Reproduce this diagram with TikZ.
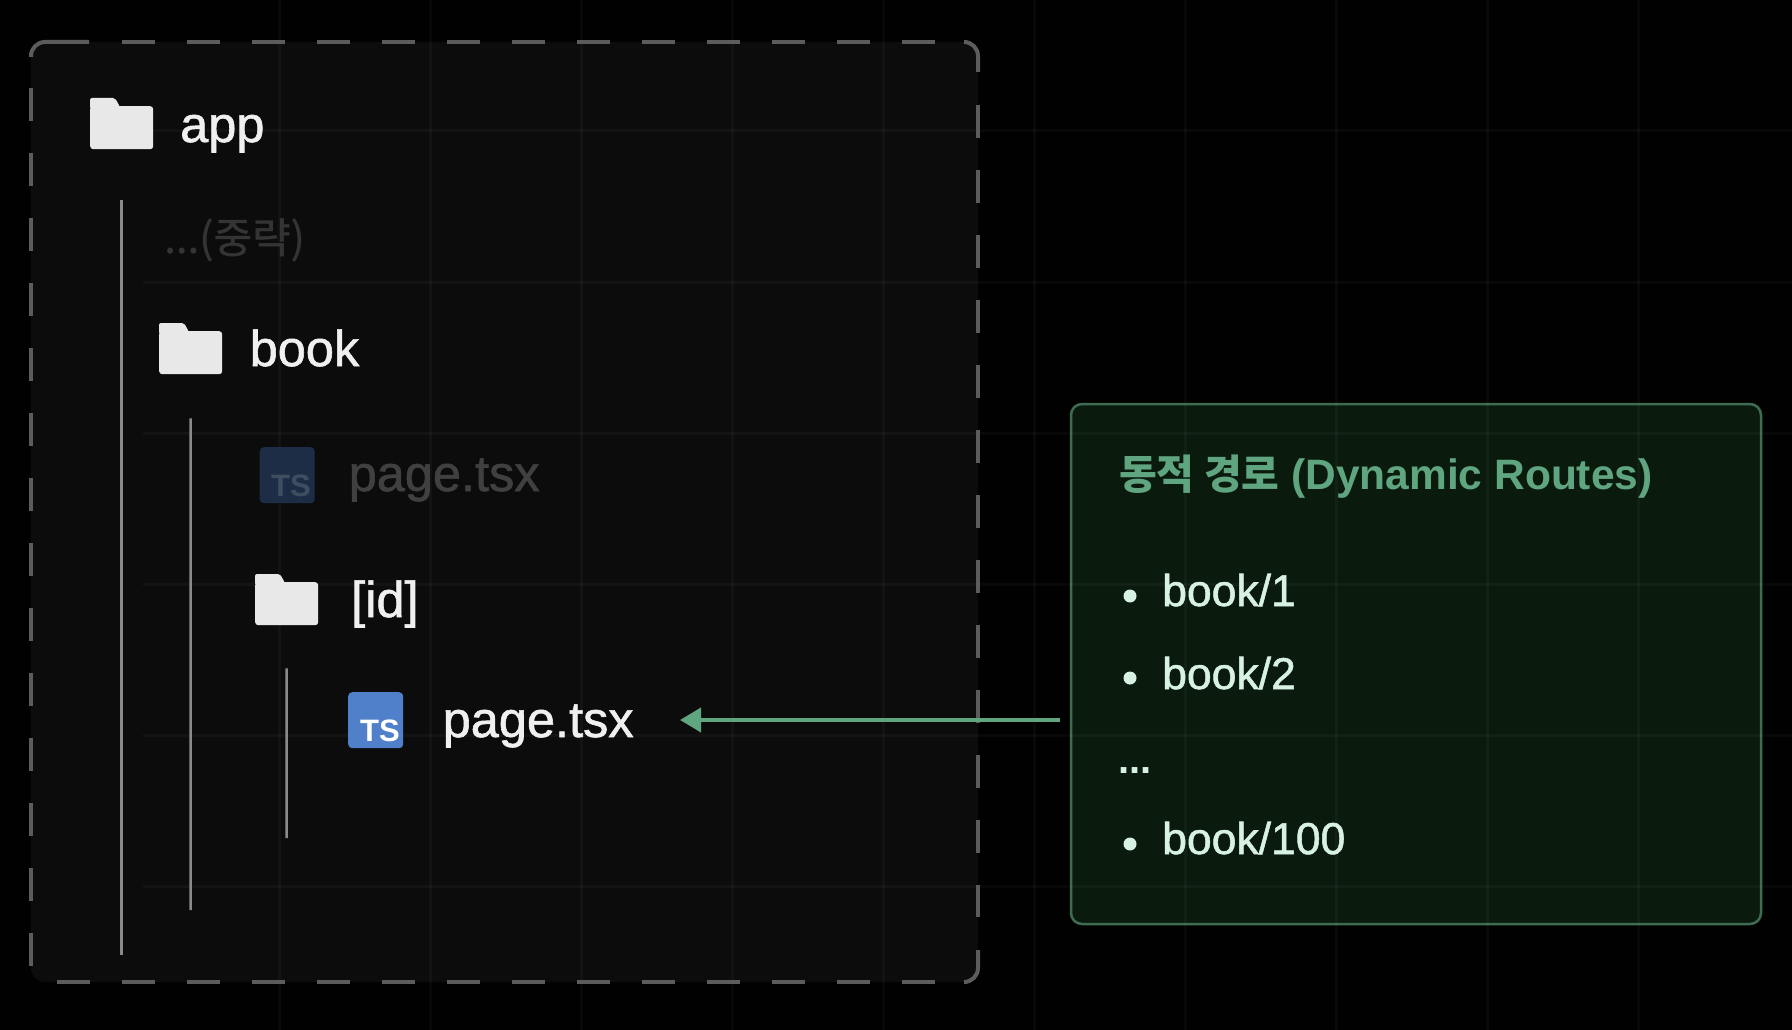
\documentclass[tikz,border=0pt]{standalone}
\usepackage{fontspec}
\setmainfont{Liberation Sans}
\newfontfamily\medfont{Liberation Sans}[FakeBold=1.2]
\newfontfamily\krfont{Noto Sans CJK KR}
\newfontfamily\krmedfont{Noto Sans CJK KR}[FakeBold=0.8]
\usetikzlibrary{calc}
\usetikzlibrary{positioning, arrows.meta}

\definecolor{bgblack}{HTML}{010101}
\definecolor{panelfill}{HTML}{0C0C0C}
\definecolor{paneledge}{HTML}{5C5C5C}
\definecolor{treegray}{HTML}{8A8A8A}
\definecolor{foldergray}{HTML}{E8E8E8}
\definecolor{filetext}{HTML}{F0F0F0}
\definecolor{fadedtext}{HTML}{404040}
\definecolor{hiddentext}{HTML}{343434}
\definecolor{tsblue}{HTML}{4F80C9}
\definecolor{tsfaded}{HTML}{1C2D45}
\definecolor{tsfadedtext}{HTML}{3F4D60}
\definecolor{routefill}{HTML}{0A1B0E}
\definecolor{routeedge}{HTML}{3F6B50}
\definecolor{routegreen}{HTML}{5FA580}
\definecolor{routetext}{HTML}{D7F1E3}

\tikzset{
    panelbox/.style={fill=panelfill, rounded corners=14, minimum width=947, minimum height=940, inner sep=0},
    paneldash/.style={draw=paneledge, line width=4, dash pattern=on 33 off 32},
    panelcorner/.style={draw=paneledge, line width=4, rounded corners=14},
    gridline/.style={draw=white, opacity=0.03, line width=3},
    treeline/.style={draw=treegray, line width=2.5},
    folderbody/.style={fill=foldergray, rounded corners=3, minimum width=63, minimum height=43, inner sep=0, anchor=north west},
    tsbox/.style={rounded corners=4, minimum width=55, minimum height=56, inner sep=0, anchor=north west},
    tslabel/.style={font=\fontsize{31}{36}\selectfont\bfseries, inner sep=0, anchor=base east},
    filename/.style={font=\fontsize{50.5}{60}\selectfont\medfont, text=filetext, inner sep=0, anchor=base west},
    routebox/.style={draw=routeedge, fill=routefill, line width=2.5, rounded corners=11, minimum width=690, minimum height=520, inner sep=0},
    routeitem/.style={font=\fontsize{44.5}{54}\selectfont\medfont, text=routetext, inner sep=0, anchor=base west},
    routedot/.style={circle, fill=routetext, minimum size=13, inner sep=0},
    routearrow/.style={draw=routegreen, line width=4, -{Triangle[length=21pt,width=24pt]}, shorten >=0pt}
}

\newcommand{\folderdir}[3]{%
    \node[folderbody] (#1) at (#2,#3) {};
    \fill[foldergray, rounded corners=2] ($(#1.north west)+(0,3)$) -- ++(0,-11) -- ++(25,0) -- ++(5,9) -- ++(0,2) -- cycle;
}

\begin{document}
\begin{tikzpicture}[x=1pt, y=-1pt]
    \fill[bgblack] (0,0) rectangle (1792,1030);
    \useasboundingbox (0,0) rectangle (1792,1030);

    \node[panelbox] (treepanel) at (504.5,512) {};
    \node[routebox] (routes) at (1416,664) {};

    % faint background grid
    \foreach \gx in {279,430,581,732,883,1034,1185,1336,1487,1638} {
        \draw[gridline] (\gx,0) -- (\gx,1030);
    }
    \foreach \gy in {131,282,433,584,735,886} {
        \draw[gridline] (143,\gy) -- (1792,\gy);
    }

    % dashed edge of the panel
    \draw[paneldash] (122,42) -- (935,42);
    \draw[paneldash] (978,105) -- (978,917);
    \draw[paneldash] (57,982) -- (935,982);
    \draw[paneldash] (31,88) -- (31,967);
    \draw[panelcorner] (31,57) |- (89,42);
    \draw[panelcorner] (964,42) -| (978,72);
    \draw[panelcorner] (978,950) |- (964,982);

    % file tree
    \folderdir{appdir}{90}{106}
    \node[filename] (appname) at (180,142) {app};
    \node[font=\fontsize{42}{50}\selectfont\krmedfont, text=hiddentext, inner sep=0, anchor=base west] (skipped) at (164,253) {...(중략)};

    \folderdir{bookdir}{159}{331}
    \node[filename] (bookname) at (249.5,366) {book};

    \node[tsbox, fill=tsfaded] (pageicona) at (259.5,447) {};
    \node[tslabel, text=tsfadedtext] (pagetsa) at (311,496) {TS};
    \node[filename, text=fadedtext] (pagefilea) at (348.5,491) {page.tsx};

    \folderdir{iddir}{255}{582}
    \node[filename] (idname) at (351,617) {[id]};

    \node[tsbox, fill=tsblue] (pageiconb) at (348,692) {};
    \node[tslabel, text=white] (pagetsb) at (400,741) {TS};
    \node[filename] (pagefileb) at (442.5,737) {page.tsx};

    \coordinate (append) at (122,955);
    \coordinate (bookend) at (190.5,910);
    \coordinate (idend) at (286.5,838);
    \draw[treeline] ($(appdir.south)+(0,51)$) -- (append -| appdir.south);
    \draw[treeline] ($(bookdir.south)+(0,44)$) -- (bookend);
    \draw[treeline] ($(iddir.south)+(0,43)$) -- (idend);

    % dynamic routes box
    \node[font=\fontsize{42.5}{48}\selectfont\bfseries, text=routegreen, inner sep=0, anchor=base west] (routetitle) at (1119,489) {{\fontsize{41}{48}\selectfont\krfont 동적 경로} (Dynamic Routes)};

    \node[routedot] (dota) at (1130,596) {};
    \node[routeitem] (itema) at (1162,606) {book/1};
    \node[routedot] (dotb) at (1130,678) {};
    \node[routeitem] (itemb) at (1162,689) {book/2};
    \node[font=\fontsize{40}{48}\selectfont\bfseries, text=routetext, inner sep=0, anchor=base west] (itemgap) at (1118,773) {...};
    \node[routedot] (dotc) at (1130,844) {};
    \node[routeitem] (itemc) at (1162,854) {book/100};

    % arrow to the page file
    \coordinate (routeout) at (1060,720);
    \coordinate (pagetip) at (680,720);
    \draw[routearrow] (routeout) -- (pagetip);
\end{tikzpicture}
\end{document}
